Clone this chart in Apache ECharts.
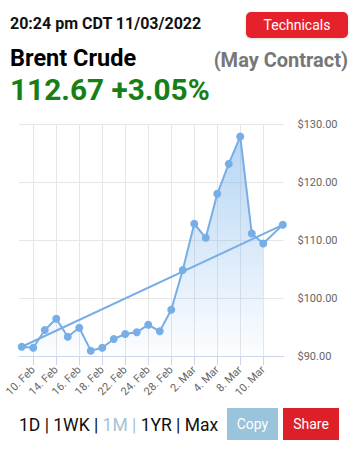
<!DOCTYPE html>
<html><head><meta charset="utf-8">
<script src="https://cdn.jsdelivr.net/npm/echarts@6/dist/echarts.min.js"></script>
<style>
html,body{margin:0;padding:0;background:#fff;width:354px;height:449px;overflow:hidden;font-family:Roboto,sans-serif}
#chart{position:absolute;left:0;top:0;width:354px;height:449px}
.t{position:absolute;white-space:nowrap;line-height:1}
.btn{position:absolute;color:#fff;font-size:14px;display:flex;align-items:center;justify-content:center;font-family:Roboto,sans-serif}
</style></head>
<body>
<div id="chart"></div>
<div class="t" style="left:10px;top:16px;font-size:16px;font-weight:bold;color:#111">20:24 pm CDT 11/03/2022</div>
<div class="btn" style="left:246px;top:12px;width:102px;height:26px;border-radius:5px;background:#e5222b;box-shadow:0 1px 3px rgba(0,0,0,0.15)">Technicals</div>
<div class="t" style="left:10px;top:47.3px;font-size:23.5px;font-weight:bold;color:#000">Brent Crude</div>
<div class="t" style="right:6px;top:49.9px;font-size:20px;font-weight:bold;color:#777">(May Contract)</div>
<div class="t" style="left:10px;top:75.3px;font-size:29.8px;font-weight:bold;color:#168016">112.67 +3.05%</div>
<div class="t" style="left:19px;top:417.2px;font-size:17.5px;color:#111">1D | 1WK | <span style="color:#a8c2d1">1M |</span> 1YR | Max</div>
<div class="btn" style="left:227px;top:408px;width:51px;height:32px;background:#9ac3dc">Copy</div>
<div class="btn" style="left:283px;top:408px;width:56px;height:32px;background:#dd1f27">Share</div>
<script>
const dates = ['9. Feb','10. Feb','11. Feb','14. Feb','15. Feb','16. Feb','17. Feb','18. Feb','21. Feb','22. Feb','23. Feb','24. Feb','25. Feb','28. Feb','1. Mar','2. Mar','3. Mar','4. Mar','7. Mar','8. Mar','9. Mar','10. Mar','11. Mar'];
const prices = [91.6, 91.43, 94.49, 96.44, 93.33, 94.89, 90.92, 91.43, 92.94, 93.8, 94.09, 95.41, 94.27, 98.0, 104.85, 112.85, 110.43, 118.03, 123.2, 127.94, 111.16, 109.43, 112.67];
// ordinal time position of each session (last one is the intraday 11 Mar quote)
const ordinal = [0,1,2,3,4,5,6,7,8,9,10,11,12,13,14,15,16,17,18,19,20,21,22.7];
const tickLabels = ['10. Feb','14. Feb','16. Feb','18. Feb','22. Feb','24. Feb','28. Feb','2. Mar','4. Mar','8. Mar','10. Mar'];
const yTicks = [90,100,110,120,130];

const blue = '#78aee6';
const tickVals = tickLabels.map(l => ordinal[dates.indexOf(l)]);
const pts = prices.map((p,i) => [ordinal[i], p]);
const areaPts = pts.slice(0, dates.indexOf('10. Mar') + 1);
const trend = [pts[0], pts[pts.length-1]];

const chart = echarts.init(document.getElementById('chart'), null, {renderer:'svg'});
chart.setOption({
  animation:false,
  grid:{left:19, right:70.5, top:124.5, bottom:93, containLabel:false},
  xAxis:{
    type:'value', min:-0.24, max:22.76,
    axisLine:{show:true, lineStyle:{color:'#ccd6eb'}},
    axisTick:{show:true, customValues:tickVals, length:9, lineStyle:{color:'#ccd6eb'}},
    axisLabel:{customValues:tickVals, rotate:45, margin:12, fontSize:11, color:'#666', fontFamily:'Roboto',
      formatter:v => dates[ordinal.indexOf(v)]},
    splitLine:{show:true, lineStyle:{color:'#e6e6e6'}}
  },
  yAxis:{
    type:'value', position:'right', min:yTicks[0], max:yTicks[yTicks.length-1], interval:10,
    axisLine:{show:false}, axisTick:{show:false},
    axisLabel:{margin:14, fontSize:11, color:'#666', fontFamily:'Roboto', formatter:v => '$' + v.toFixed(2)},
    splitLine:{show:true, lineStyle:{color:'#e6e6e6'}}
  },
  series:[
    {type:'line', data:areaPts, showSymbol:false, silent:true, z:1,
     lineStyle:{width:0},
     areaStyle:{origin:'start', color:new echarts.graphic.LinearGradient(0,0,0,1,[
       {offset:0,color:'rgba(124,181,236,0.8)'},{offset:1,color:'rgba(124,181,236,0.03)'}])}},
    {type:'line', data:trend, showSymbol:false, z:2, lineStyle:{color:blue, width:2}},
    {type:'line', data:pts, symbol:'circle', symbolSize:8, z:3,
     itemStyle:{color:blue}, lineStyle:{color:blue, width:2}}
  ]
});
</script>
</body></html>
